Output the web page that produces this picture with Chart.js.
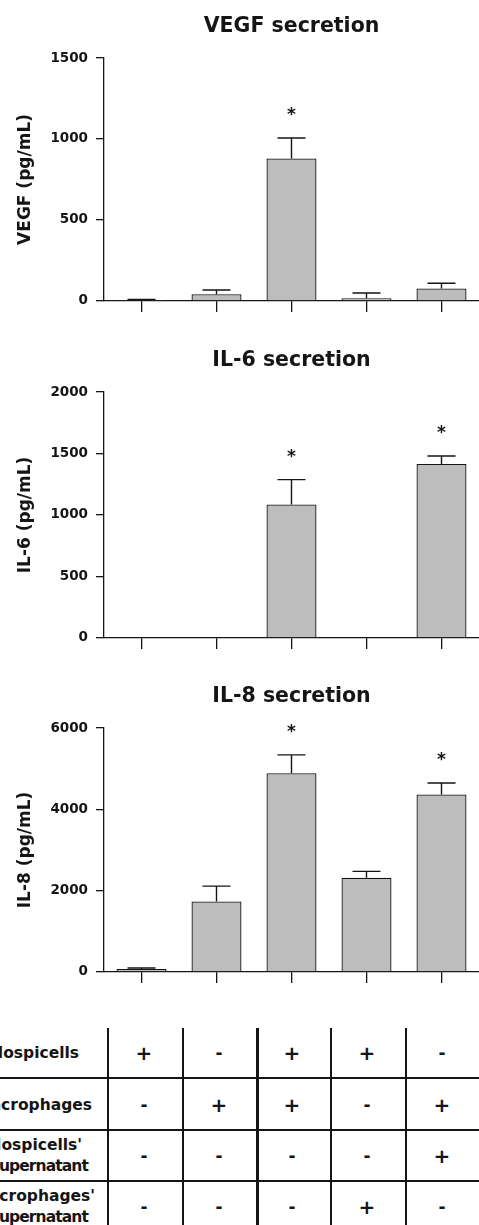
<!DOCTYPE html>
<html>
<head>
<meta charset="utf-8">
<title>Cytokine secretion</title>
<script src="https://cdn.jsdelivr.net/npm/chart.js@4/dist/chart.umd.min.js"></script>
<style>
  html, body { margin: 0; padding: 0; background: #fff; }
  body { position: relative; width: 479px; height: 1225px; overflow: hidden; font-family: "DejaVu Sans", sans-serif; }
  .panel { position: absolute; left: 0; }
  .rule { position: absolute; background: #151515; }
  .lab { position: absolute; text-align: right; font-weight: bold; font-size: 15.5px; height: 20px; line-height: 20px; color: #151515; white-space: nowrap; }
  .mark { position: absolute; width: 40px; text-align: center; font-weight: bold; color: #151515; }
</style>
</head>
<body>
<div class="panel" id="p1"><canvas id="vegf"></canvas></div>
<div class="panel" id="p2"><canvas id="il6"></canvas></div>
<div class="panel" id="p3"><canvas id="il8"></canvas></div>
<div id="grid"></div>

<script>
// Culture conditions (one bar per condition)
const conditions = [
  'Hospicells',
  'Macrophages',
  'Hospicells + macrophages',
  "Hospicells + macrophages' supernatant",
  "Macrophages + hospicells' supernatant"
];

// VEGF (pg/mL): mean and SEM
const vegfMean = [6, 41, 880, 16, 77];
const vegfErr  = [3, 26, 126, 33, 32];
const vegfSig  = [false, false, true, false, false];
const vegfTicks = [0, 500, 1000, 1500];

// IL-6 (pg/mL)
const il6Mean = [0, 0, 1086, 0, 1415];
const il6Err  = [0, 0, 201, 0, 64];
const il6Sig  = [false, false, true, false, true];
const il6Ticks = [0, 500, 1000, 1500, 2000];

// IL-8 (pg/mL)
const il8Mean = [70, 1732, 4889, 2319, 4365];
const il8Err  = [25, 379, 449, 154, 282];
const il8Sig  = [false, false, true, false, true];
const il8Ticks = [0, 2000, 4000, 6000];

// Condition table
const rowLabels = ['Hospicells', 'Macrophages', "Hospicells'\nsupernatant", "Macrophages'\nsupernatant"];
const rowMarks = [
  ['+', '-', '+', '+', '-'],
  ['-', '+', '+', '-', '+'],
  ['-', '-', '-', '-', '+'],
  ['-', '-', '-', '+', '-']
];

const INK = '#151515';
Chart.defaults.font.family = '"DejaVu Sans", sans-serif';
Chart.defaults.font.weight = 'bold';
Chart.defaults.color = INK;

// SEM whiskers (upper half only) and significance stars
const errorBars = {
  id: 'errorBars',
  afterDatasetsDraw(chart) {
    const ctx = chart.ctx;
    const y = chart.scales.y;
    const ds = chart.data.datasets[0];
    const meta = chart.getDatasetMeta(0);
    ctx.save();
    ctx.strokeStyle = INK;
    ctx.lineWidth = 1.4;
    ctx.fillStyle = INK;
    ctx.textAlign = 'center';
    ctx.textBaseline = 'alphabetic';
    ctx.font = 'bold 17px "DejaVu Sans", sans-serif';
    meta.data.forEach((bar, i) => {
      const v = ds.data[i];
      const e = ds.errors[i];
      const yBase = y.getPixelForValue(v);
      const yTop = y.getPixelForValue(v + e);
      if (e > 0) {
        ctx.beginPath();
        ctx.moveTo(bar.x, yBase);
        ctx.lineTo(bar.x, yTop);
        ctx.moveTo(bar.x - 14, yTop);
        ctx.lineTo(bar.x + 14, yTop);
        ctx.stroke();
      }
      if (ds.stars[i]) {
        ctx.fillText('*', bar.x, yTop - 28 + 10);
      }
    });
    ctx.restore();
  }
};

function makePanel(canvasId, wrapId, title, axisTitle, mean, err, sig, ticks, geo) {
  const areaH = geo.bottom - geo.top;
  const top = Math.round(geo.top - 58);
  const height = Math.round(58 + areaH + 12);
  const wrap = document.getElementById(wrapId);
  wrap.style.top = top + 'px';
  const cv = document.getElementById(canvasId);
  cv.width = 479;
  cv.height = height;
  cv.style.width = '479px';
  cv.style.height = height + 'px';

  return new Chart(cv, {
    type: 'bar',
    data: {
      labels: conditions,
      datasets: [{
        data: mean,
        errors: err,
        stars: sig,
        backgroundColor: '#bdbdbd',
        borderColor: INK,
        borderWidth: 1.3,
        barPercentage: 1,
        categoryPercentage: 2 / 3
      }]
    },
    options: {
      responsive: false,
      animation: false,
      devicePixelRatio: 1,
      layout: { padding: { left: 0, right: 0, top: 0, bottom: 1 } },
      plugins: {
        legend: { display: false },
        tooltip: { enabled: false },
        title: {
          display: true,
          text: title,
          fullSize: false,
          color: INK,
          font: { size: 20.5, weight: 'bold', lineHeight: 1.2 },
          padding: { top: 14.7, bottom: 18.7 }
        }
      },
      scales: {
        x: {
          offset: true,
          grid: { display: true, drawOnChartArea: false, drawTicks: true, tickLength: 11, offset: false, color: INK, lineWidth: 1.3 },
          border: { display: true, color: INK, width: 1.3 },
          ticks: { display: false }
        },
        y: {
          min: 0,
          max: ticks[ticks.length - 1],
          afterBuildTicks: s => { s.ticks = ticks.map(v => ({ value: v })); },
          afterFit: s => { s.width = 104; },
          grid: { display: true, drawOnChartArea: false, drawTicks: true, tickLength: 8, color: INK, lineWidth: 1.3 },
          border: { display: true, color: INK, width: 1.3 },
          ticks: { color: INK, padding: 8, font: { size: 13.5, weight: 'bold' }, callback: v => String(v) },
          title: {
            display: true,
            text: axisTitle,
            color: INK,
            font: { size: 17, weight: 'bold', lineHeight: 1.2 },
            padding: { top: 15, bottom: 0 }
          }
        }
      }
    },
    plugins: [errorBars]
  });
}

makePanel('vegf', 'p1', 'VEGF secretion', 'VEGF (pg/mL)', vegfMean, vegfErr, vegfSig, vegfTicks, { top: 58, bottom: 305 });
makePanel('il6', 'p2', 'IL-6 secretion', 'IL-6 (pg/mL)', il6Mean, il6Err, il6Sig, il6Ticks, { top: 392, bottom: 641.5 });
makePanel('il8', 'p3', 'IL-8 secretion', 'IL-8 (pg/mL)', il8Mean, il8Err, il8Sig, il8Ticks, { top: 728.3, bottom: 976.7 });

// Condition table under the charts
(function buildTable() {
  const grid = document.getElementById('grid');
  const add = (cls, css, text) => {
    const d = document.createElement('div');
    d.className = cls;
    Object.assign(d.style, css);
    if (text !== undefined) d.textContent = text;
    grid.appendChild(d);
    return d;
  };
  const colLines = [108, 183, 257, 331, 406];
  const colWidth = [1.5, 1.5, 3, 1.5, 1.5];
  colLines.forEach((x, i) => add('rule', { left: (x - colWidth[i] / 2) + 'px', top: '1028px', width: colWidth[i] + 'px', height: '197px' }));
  const rowLines = [1078, 1130, 1181];
  const rowWidth = [1.5, 2.6, 2.6];
  rowLines.forEach((y, i) => add('rule', { left: '0px', top: (y - rowWidth[i] / 2) + 'px', width: '479px', height: rowWidth[i] + 'px' }));

  // label lines: right edge and vertical centre of each line
  const lineRight = [[79], [92], [82, 88], [95, 88]];
  const lineMid = [[1053], [1104.5], [1145, 1165.5], [1196, 1217]];
  rowLabels.forEach((txt, r) => {
    txt.split('\n').forEach((line, k) => {
      const el = add('lab', { right: (479 - lineRight[r][k]) + 'px', top: (lineMid[r][k] - 10) + 'px' }, line);
      if (line === 'supernatant') el.style.letterSpacing = '-0.9px';
    });
  });

  const rowCenters = [1053, 1104.5, 1155.5, 1206.5];
  const colCenters = [144, 219, 292, 367, 442];
  rowMarks.forEach((row, r) => {
    row.forEach((m, c) => {
      const size = m === '+' ? 20 : 17;
      add('mark', { left: (colCenters[c] - 20) + 'px', top: (rowCenters[r] - 12) + 'px', height: '24px', lineHeight: '24px', fontSize: size + 'px' }, m);
    });
  });
})();
</script>
</body>
</html>
